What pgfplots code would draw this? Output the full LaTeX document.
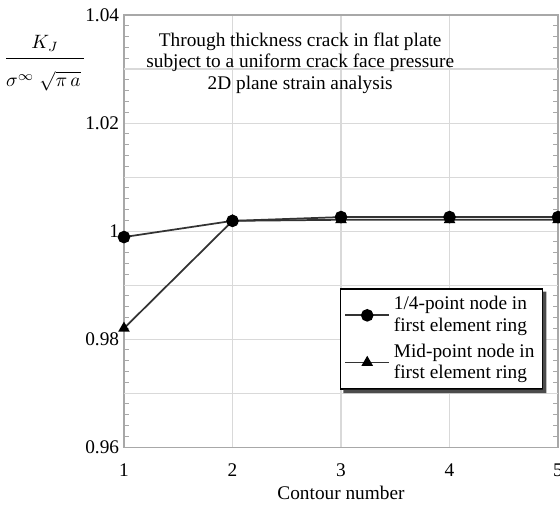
\documentclass[border=0pt]{standalone}
\usepackage{amsmath}
\usepackage{fontspec}
\setmainfont{Liberation Serif}
\usepackage{pgfplots}
\pgfplotsset{compat=1.18}

\definecolor{gridgray}{HTML}{D9D9D9}
\definecolor{framegray}{HTML}{A8A8A8}
\definecolor{curve}{HTML}{333333}

\begin{document}
\begin{tikzpicture}
\begin{axis}[
    name=ax,
    scale only axis,
    width=224.8pt, height=223.8pt,
    xmin=1, xmax=5, ymin=0.96, ymax=1.04,
    xtick={1,2,3,4,5},
    ytick={0.96,0.98,1,1.02,1.04},
    minor y tick num=9,
    extra y ticks={0.97,0.99,1.01,1.03},
    extra y tick labels={},
    extra y tick style={grid=major, major tick length=0pt},
    grid=major,
    major grid style={gridgray, line width=0.6pt},
    axis line style={framegray, line width=0.6pt},
    tick style={framegray, line width=0.5pt},
    major tick length=0pt,
    minor tick length=2.5pt,
    tick align=inside,
    yticklabel style={/pgf/number format/fixed, /pgf/number format/precision=2, xshift=1pt},
    xticklabel style={yshift=-5pt},
    /pgf/number format/assume math mode=true,
    xlabel={Contour number},
    xlabel style={yshift=2pt},
    legend style={
        name=leg,
        at={(rel axis cs:0.965,0.368)}, anchor=north east,
        draw=black, line width=0.7pt, fill=white,
        cells={anchor=west, align=left},
        font=\fontsize{10}{11}\selectfont,
        inner sep=2pt, row sep=1pt,
    },
    legend image code/.code={%
        \draw[mark repeat=2, mark phase=2, #1] plot coordinates {(0cm,0cm) (0.4cm,0cm) (0.8cm,0cm)};},
]
\addplot[curve, line width=0.9pt, mark=*, mark size=2.8pt, mark options={fill=black, draw=black}]
coordinates {(1,0.9989) (2,1.0019) (3,1.0026) (4,1.0026) (5,1.0026)};
\addlegendentry{1/4-point node in\\first element ring}

\addplot[curve, line width=0.9pt, mark=triangle*, mark size=2.6pt, mark options={fill=black, draw=black}]
coordinates {(1,0.9820) (2,1.0019) (3,1.0021) (4,1.0021) (5,1.0021)};
\addlegendentry{Mid-point node in\\first element ring}

\node[anchor=north, align=center, font=\fontsize{10}{11.2}\selectfont]
    at (rel axis cs:0.406,0.975)
    {Through thickness crack in flat plate\\subject to a uniform crack face pressure\\2D plane strain analysis};
\end{axis}
% drop shadow of the legend box
\fill[black!70] ([xshift=1.8pt]leg.south west) -- ([xshift=1.8pt,yshift=-1.8pt]leg.south west)
    -- ([xshift=1.8pt,yshift=-1.8pt]leg.south east) -- ([xshift=1.8pt,yshift=-1.8pt]leg.north east)
    -- ([yshift=-1.8pt]leg.north east) -- (leg.south east) -- cycle;
\node at ([shift={(-40.9pt,-22.3pt)}]ax.north west)
    {$\dfrac{\rule{0pt}{12pt}K_J\rule[-4pt]{0pt}{0pt}}{\rule{0pt}{13pt}\sigma^{\infty}\;\sqrt{\pi\, a}\,}$};
\pgfresetboundingbox
\path[use as bounding box] ([shift={(-64.2pt,-30pt)}]ax.south west) rectangle ([shift={(1pt,7.8pt)}]ax.north east);
\end{tikzpicture}
\end{document}
